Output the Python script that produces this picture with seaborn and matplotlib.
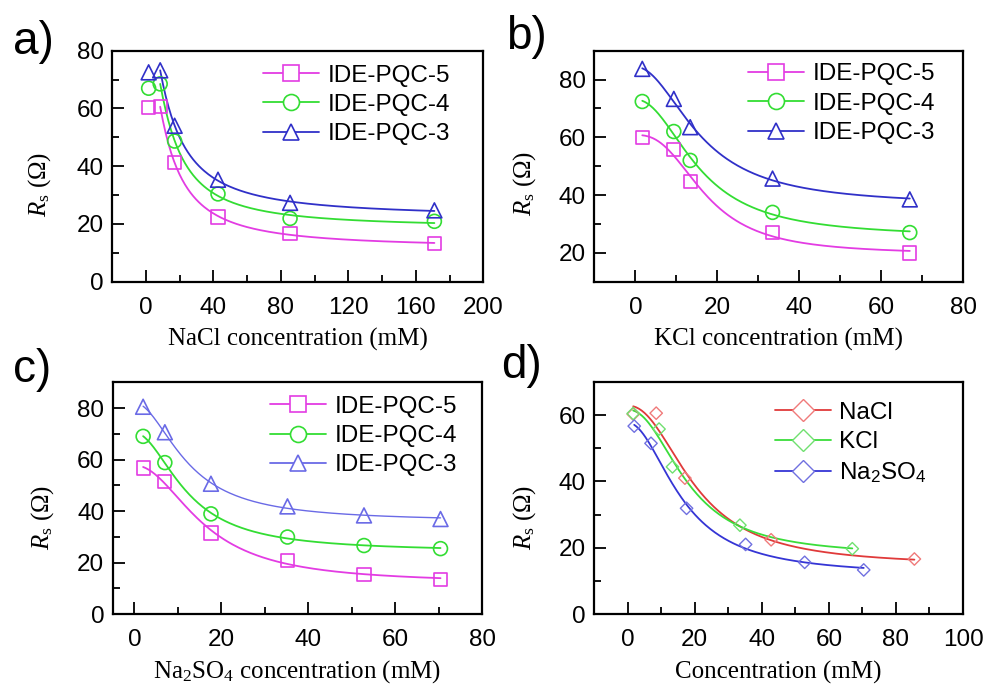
import numpy as np
import pandas as pd
import matplotlib
matplotlib.use('Agg')
import matplotlib.pyplot as plt
from matplotlib.lines import Line2D
from matplotlib.ticker import MultipleLocator
import seaborn as sns

# data
nacl_x = [1.71, 8.55, 17.1, 42.8, 85.5, 171.0]
nacl_pqc5 = [60.3, 60.6, 41.2, 22.4, 16.7, 13.2]
nacl_pqc4 = [67.0, 68.5, 48.7, 30.4, 21.9, 20.9]
nacl_pqc3 = [72.5, 73.2, 54.0, 35.3, 27.3, 24.7]

kcl_x = [1.7, 9.4, 13.4, 33.5, 67.0]
kcl_pqc5 = [60.0, 55.8, 44.6, 26.9, 19.9]
kcl_pqc4 = [72.4, 62.0, 52.0, 34.0, 27.0]
kcl_pqc3 = [83.7, 73.3, 63.5, 45.7, 38.5]

na2so4_x = [2.0, 7.0, 17.6, 35.2, 52.8, 70.4]
na2so4_pqc5 = [56.7, 51.5, 31.5, 20.8, 15.4, 13.3]
na2so4_pqc4 = [69.0, 58.8, 38.9, 29.9, 26.6, 25.4]
na2so4_pqc3 = [80.5, 70.6, 50.6, 41.8, 38.3, 36.9]

# panel d: IDE-PQC-5 in the three salts
d_nacl_x = [1.71, 8.55, 17.1, 42.8, 85.5]
d_nacl_y = [60.3, 60.6, 41.0, 22.4, 16.6]
d_kcl_x = [1.7, 9.4, 13.4, 33.5, 67.0]
d_kcl_y = [60.5, 55.8, 44.4, 26.8, 19.7]
d_na2so4_x = [2.0, 7.0, 17.6, 35.2, 52.8, 70.4]
d_na2so4_y = [56.7, 51.5, 31.9, 21.0, 15.6, 13.3]

sensor_labels = ['IDE-PQC-5', 'IDE-PQC-4', 'IDE-PQC-3']
salt_labels = ['NaCl', 'KCl', 'Na$_{\\mathsf{2}}$SO$_{\\mathsf{4}}$']

PINK = '#E33CE3'
GREEN = '#33DD33'
BLUE = '#3030C8'

sns.set_style('ticks')
plt.rcParams['font.family'] = ['Liberation Sans', 'DejaVu Sans']
plt.rcParams['mathtext.fontset'] = 'custom'
plt.rcParams['mathtext.rm'] = 'Liberation Serif'
plt.rcParams['mathtext.it'] = 'Liberation Serif:italic'
plt.rcParams['mathtext.sf'] = 'Liberation Sans'
for k in ['text.color', 'axes.labelcolor', 'xtick.color', 'ytick.color', 'axes.edgecolor']:
    plt.rcParams[k] = 'black'

FS = 17.5


def logistic_fit(x, y, pmax=4.0):
    # dose-response curve y = A2 + (A1-A2)/(1+(x/x0)^p), grid on x0/p, least squares for A1/A2
    x = np.asarray(x, float)
    y = np.asarray(y, float)
    X0, P = np.meshgrid(np.logspace(0, 2.6, 260), np.linspace(0.7, pmax, 120), indexing='ij')
    S = 1.0 / (1.0 + (x / X0[..., None]) ** P[..., None])
    sm = S.mean(-1)
    ym = y.mean()
    cov = ((S - sm[..., None]) * (y - ym)).sum(-1)
    var = ((S - sm[..., None]) ** 2).sum(-1)
    b = cov / np.where(var > 1e-12, var, np.nan)
    a = ym - b * sm
    err = ((a[..., None] + b[..., None] * S - y) ** 2).sum(-1)
    i = np.unravel_index(np.nanargmin(err), err.shape)
    x0, p, aa, bb = X0[i], P[i], a[i], b[i]
    xs = np.linspace(x.min(), x.max(), 200)
    return xs, aa + bb / (1.0 + (xs / x0) ** p)


def draw_series(ax, x, y, color, marker, size, fit_from=0, lw=1.3, mcolor=None, mlw=1.2, pmax=4.0):
    xs, ys = logistic_fit(x[fit_from:], y[fit_from:], pmax)
    sns.lineplot(x=xs, y=ys, ax=ax, color=color, lw=lw, legend=False, sort=True)
    ax.scatter(x, y, marker=marker, s=size, facecolors='none',
               edgecolors=mcolor or color, linewidths=mlw, zorder=3)


def style_axes(ax, xlim, ylim, xmaj, ymaj):
    ax.set_xlim(*xlim)
    ax.set_ylim(*ylim)
    ax.xaxis.set_major_locator(MultipleLocator(xmaj))
    ax.xaxis.set_minor_locator(MultipleLocator(xmaj / 2))
    ax.yaxis.set_major_locator(MultipleLocator(ymaj))
    ax.yaxis.set_minor_locator(MultipleLocator(ymaj / 2))
    ax.tick_params(which='both', direction='in', top=False, right=False, width=1.3, color='black')
    ax.tick_params(which='major', length=8.5, labelsize=FS, labelcolor='black')
    ax.tick_params(axis='x', which='major', pad=11)
    ax.tick_params(axis='y', which='major', pad=6)
    ax.tick_params(which='minor', length=5)
    for sp in ax.spines.values():
        sp.set_linewidth(1.6)
        sp.set_color('black')
        sp.set_visible(True)


def set_labels(ax, xlabel, ylx, yly):
    ax.set_xlabel(xlabel, fontsize=18, family='Liberation Serif', color='black')
    ax.xaxis.set_label_coords(0.5, -0.25)
    ax.xaxis.label.set_va('center')
    ax.set_ylabel('$R_{\\mathrm{s}}$ (\u03a9)', fontsize=18, family='Liberation Serif', color='black')
    ax.yaxis.set_label_coords(ylx, yly)
    ax.yaxis.label.set_va('center')


def sensor_legend(ax, anchor, colors):
    markers = ['s', 'o', '^']
    handles = [Line2D([], [], color=c, lw=1.3, marker=m, markersize=11.5,
                      markerfacecolor='white', markeredgecolor=c, markeredgewidth=1.2)
               for c, m in zip(colors, markers)]
    ax.legend(handles=handles, labels=sensor_labels, loc='upper right', bbox_to_anchor=anchor,
              frameon=False, borderpad=0, borderaxespad=0, handlelength=2.3,
              handletextpad=0.35, labelspacing=0.3, fontsize=FS)


fig = plt.figure(figsize=(9.85, 6.84), dpi=100)
ax_a = fig.add_axes([0.1137, 0.5882, 0.3770, 0.3377])
ax_b = fig.add_axes([0.6034, 0.5882, 0.3743, 0.3377])
ax_c = fig.add_axes([0.1144, 0.1023, 0.3752, 0.3388])
ax_d = fig.add_axes([0.6030, 0.1023, 0.3747, 0.3392])

# a) NaCl
draw_series(ax_a, nacl_x, nacl_pqc5, PINK, 's', 90, fit_from=1)
draw_series(ax_a, nacl_x, nacl_pqc4, GREEN, 'o', 100, fit_from=1)
draw_series(ax_a, nacl_x, nacl_pqc3, BLUE, '^', 115, fit_from=1)
style_axes(ax_a, (-20, 200), (0, 80), 40, 20)
set_labels(ax_a, 'NaCl concentration (mM)', -0.194, 0.423)
sensor_legend(ax_a, (0.91, 0.94), [PINK, GREEN, BLUE])

# b) KCl
draw_series(ax_b, kcl_x, kcl_pqc5, PINK, 's', 90)
draw_series(ax_b, kcl_x, kcl_pqc4, GREEN, 'o', 100)
draw_series(ax_b, kcl_x, kcl_pqc3, BLUE, '^', 115)
style_axes(ax_b, (-10, 80), (10, 90), 20, 20)
set_labels(ax_b, 'KCl concentration (mM)', -0.188, 0.426)
sensor_legend(ax_b, (0.924, 0.945), [PINK, GREEN, BLUE])

# c) Na2SO4
LBLUE = '#6A6AE6'
draw_series(ax_c, na2so4_x, na2so4_pqc5, PINK, 's', 90)
draw_series(ax_c, na2so4_x, na2so4_pqc4, GREEN, 'o', 100)
draw_series(ax_c, na2so4_x, na2so4_pqc3, LBLUE, '^', 115, lw=1.0)
style_axes(ax_c, (-5, 80), (0, 90), 20, 20)
set_labels(ax_c, 'Na$_{\\mathrm{2}}$SO$_{\\mathrm{4}}$ concentration (mM)', -0.189, 0.419)
sensor_legend(ax_c, (0.931, 0.942), [PINK, GREEN, LBLUE])

# d) comparison of salts
RED = '#E03A3A'
D_GREEN = '#3ADD3A'
D_BLUE = '#3535D5'
draw_series(ax_d, d_nacl_x, d_nacl_y, RED, 'D', 40, mcolor='#F07A7A', mlw=1.0, pmax=2.2)
draw_series(ax_d, d_kcl_x, d_kcl_y, D_GREEN, 'D', 40, mcolor='#70E070', mlw=1.0, pmax=2.2)
draw_series(ax_d, d_na2so4_x, d_na2so4_y, D_BLUE, 'D', 40, mcolor='#7070E0', mlw=1.0, pmax=2.2)
style_axes(ax_d, (-10, 100), (0, 70), 20, 20)
set_labels(ax_d, 'Concentration (mM)', -0.187, 0.418)
handles = [Line2D([], [], color=c, lw=1.3, marker='D', markersize=11,
                  markerfacecolor='white', markeredgecolor=mc, markeredgewidth=1.0)
           for c, mc in zip([RED, D_GREEN, D_BLUE], ['#F07A7A', '#70E070', '#7070E0'])]
ax_d.legend(handles=handles, labels=salt_labels, loc='upper left', bbox_to_anchor=(0.49, 0.915),
            frameon=False, borderpad=0, borderaxespad=0, handlelength=2.3,
            handletextpad=0.35, labelspacing=0.3, fontsize=FS)

# panel letters
for txt, x, y in [('a)', 13, 42), ('b)', 506, 37), ('c)', 13, 370), ('d)', 501, 366)]:
    fig.text(x / 985, 1 - y / 684, txt, fontsize=33, ha='left', va='center', color='black')

fig.savefig('out.png', dpi=100)
